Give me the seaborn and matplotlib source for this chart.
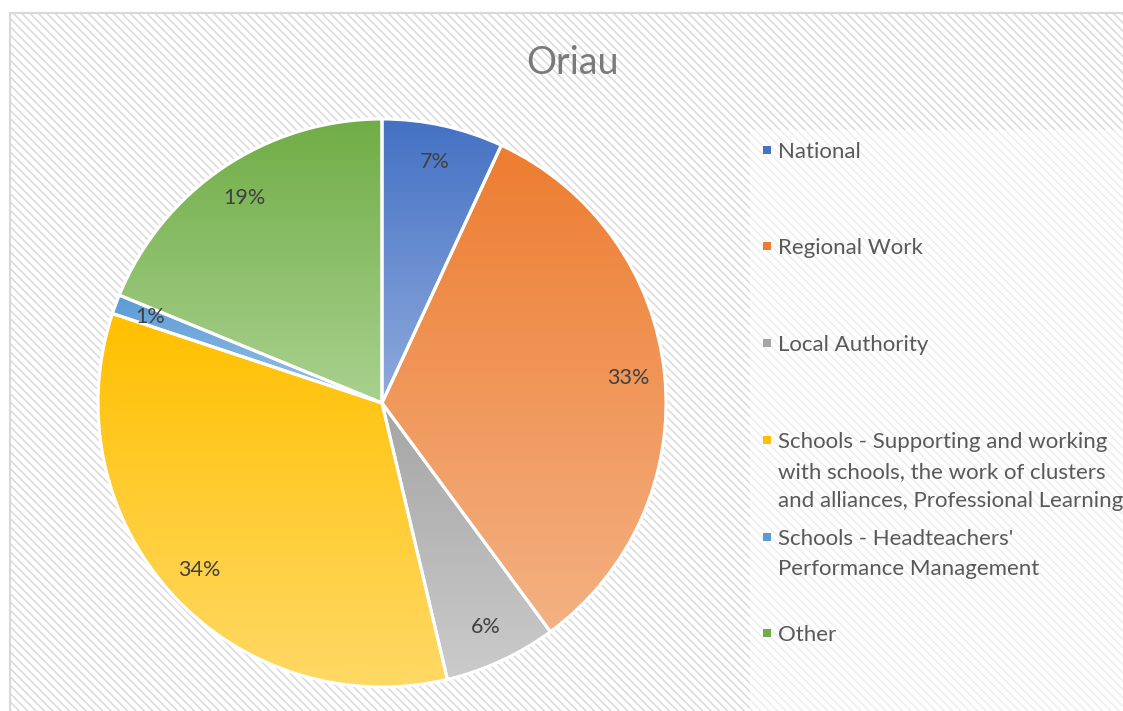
import numpy as np
import matplotlib
matplotlib.use("Agg")
import matplotlib.pyplot as plt
from matplotlib.patches import Rectangle
import seaborn as sns

categories = ["National", "Regional Work", "Local Authority",
              "Schools - Supporting and working\nwith schools, the work of clusters\nand alliances, Professional Learning",
              "Schools - Headteachers'\nPerformance Management", "Other"]
hours = [6.9, 33.0, 6.4, 33.8, 1.1, 18.8]
top_colors = ["#4472C4", "#ED7D31", "#A5A5A5", "#FFC000", "#5B9BD5", "#70AD47"]
bottom_colors = ["#8FAADC", "#F4B183", "#CBCBCB", "#FFD966", "#9DC3E6", "#A9D18E"]
title = "Oriau"

sns.set_style("white")
plt.rcParams["font.family"] = ["Lato", "DejaVu Sans"]
plt.rcParams["hatch.linewidth"] = 1.1
plt.rcParams["hatch.color"] = "#dadada"

W, H = 1123, 711
fig = plt.figure(figsize=(W / 100, H / 100), dpi=100)
fig.patch.set_facecolor("white")

# hatched chart area + lighter legend box
bg = Rectangle((10 / W, 0), 1, 1 - 13 / H, transform=fig.transFigure,
               facecolor="white", edgecolor="#dadada", hatch="\\\\\\\\",
               linewidth=0, zorder=0)
fig.add_artist(bg)
border = Rectangle((10 / W, -0.01), 1, 1 - 13 / H + 0.01, transform=fig.transFigure,
                   facecolor="none", edgecolor="#d9d9d9", linewidth=1.5, zorder=1)
fig.add_artist(border)
lbox = Rectangle((750 / W, 0), 1, 1 - 130 / H, transform=fig.transFigure,
                 facecolor="white", edgecolor="none", alpha=0.55, zorder=1)
fig.add_artist(lbox)

cx, cy, r = 382, 711 - 403, 284
ax = fig.add_axes([(cx - r) / W, (cy - r) / H, 2 * r / W, 2 * r / H])
ax.set_zorder(2)
wedges, texts, autotexts = ax.pie(
    hours, startangle=90, counterclock=False, radius=1,
    autopct="%1.0f%%", pctdistance=0.87,
    wedgeprops=dict(linewidth=2.2, edgecolor="white"),
    textprops=dict(fontsize=15.5, color="#404040"))
ax.set_xlim(-1, 1)
ax.set_ylim(-1, 1)
ax.axis("off")

# vertical gradient inside each wedge
for w, c1, c2 in zip(wedges, top_colors, bottom_colors):
    v = w.get_path().vertices
    x0, x1 = v[:, 0].min(), v[:, 0].max()
    y0, y1 = v[:, 1].min(), v[:, 1].max()
    grad = np.array(sns.blend_palette([c1, c2], 64))[:, None, :3]
    im = ax.imshow(grad, extent=[x0, x1, y0, y1], origin="upper",
                   aspect="auto", zorder=w.get_zorder() - 0.1, interpolation="bilinear")
    im.set_clip_path(w)
    w.set_facecolor("none")
ax.set_xlim(-1, 1)
ax.set_ylim(-1, 1)
for t in autotexts:
    t.set_zorder(5)

fig.text(573 / W, 1 - 63 / H, title, ha="center", va="center",
         fontsize=27, color="#7a7a7a")

# legend
legend_y = [150, 246, 343, 440, 537, 633]
for lab, y, c1, c2 in zip(categories, legend_y, top_colors, bottom_colors):
    fig.patches.append(Rectangle(((763) / W, 1 - (y + 4) / H), 8 / W, 8 / H,
                                 transform=fig.transFigure, facecolor=c1,
                                 edgecolor="none", zorder=3))
    fig.text(778 / W, 1 - (y - 8) / H, lab, ha="left", va="top",
             fontsize=16, color="#595959", linespacing=1.6, zorder=3)

fig.savefig("out.png", dpi=100)
